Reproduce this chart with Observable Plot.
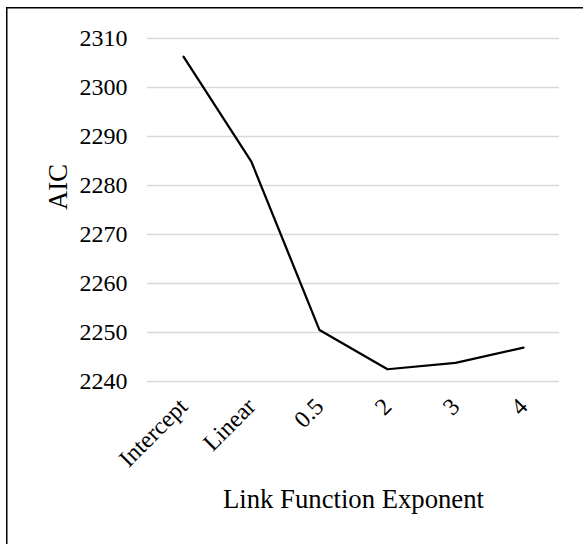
<!DOCTYPE html>
<html>
<head>
<meta charset="utf-8">
<script src="https://cdn.jsdelivr.net/npm/d3@7"></script>
<script src="https://cdn.jsdelivr.net/npm/@observablehq/plot@0.6"></script>
<style>
  html, body { margin: 0; padding: 0; background: #fff; overflow: hidden; }
  #chart { width: 583px; height: 544px; overflow: hidden; }
  #chart svg, #chart svg text { font-family: 'Liberation Serif', 'Times New Roman', serif !important; }
</style>
</head>
<body>
<div id="chart"></div>
<script>
const categories = ["Intercept", "Linear", "0.5", "2", "3", "4"];
const aicValues = [2306.3, 2284.8, 2250.5, 2242.5, 2243.8, 2246.9];
const yTicks = [2240, 2250, 2260, 2270, 2280, 2290, 2300, 2310];
const xTitle = "Link Function Exponent";
const yTitle = "AIC";

const data = categories.map((c, i) => ({category: c, aic: aicValues[i]}));
const serif = "'Liberation Serif', 'Times New Roman', serif";

const chart = Plot.plot({
  width: 583,
  height: 544,
  marginLeft: 147,
  marginRight: 24,
  marginTop: 38,
  marginBottom: 163,
  style: {fontFamily: serif, color: "#000", background: "#fff"},
  x: {type: "point", domain: categories, padding: 0.5},
  y: {domain: [2240, 2310]},
  marks: [
    Plot.ruleY(yTicks, {stroke: "#d9d9d9", strokeWidth: 1.4}),
    Plot.axisY({ticks: yTicks, tickSize: 0, tickPadding: 20, fontSize: 24, fontFamily: serif, label: null, tickFormat: d => String(d)}),
    Plot.axisX({tickSize: 0, tickPadding: 21, tickRotate: -45, fontSize: 24, fontFamily: serif, label: null}),
    Plot.line(data, {x: "category", y: "aic", stroke: "#000", strokeWidth: 2.25}),
    Plot.text([xTitle], {frameAnchor: "bottom", dy: 118, fontSize: 26.7, fontFamily: serif, lineAnchor: "middle", fill: "#000"}),
    Plot.text([yTitle], {frameAnchor: "left", dx: -89, rotate: -90, fontSize: 26.7, fontFamily: serif, lineAnchor: "middle", fill: "#000"})
  ]
});
// outer chart-area border (top and left edges visible, the rest cropped)
d3.select(chart).append("path")
  .attr("d", "M6.75,560V7.75H600")
  .attr("fill", "none")
  .attr("stroke", "#000")
  .attr("stroke-width", 1.5);
document.getElementById("chart").appendChild(chart);
</script>
</body>
</html>
